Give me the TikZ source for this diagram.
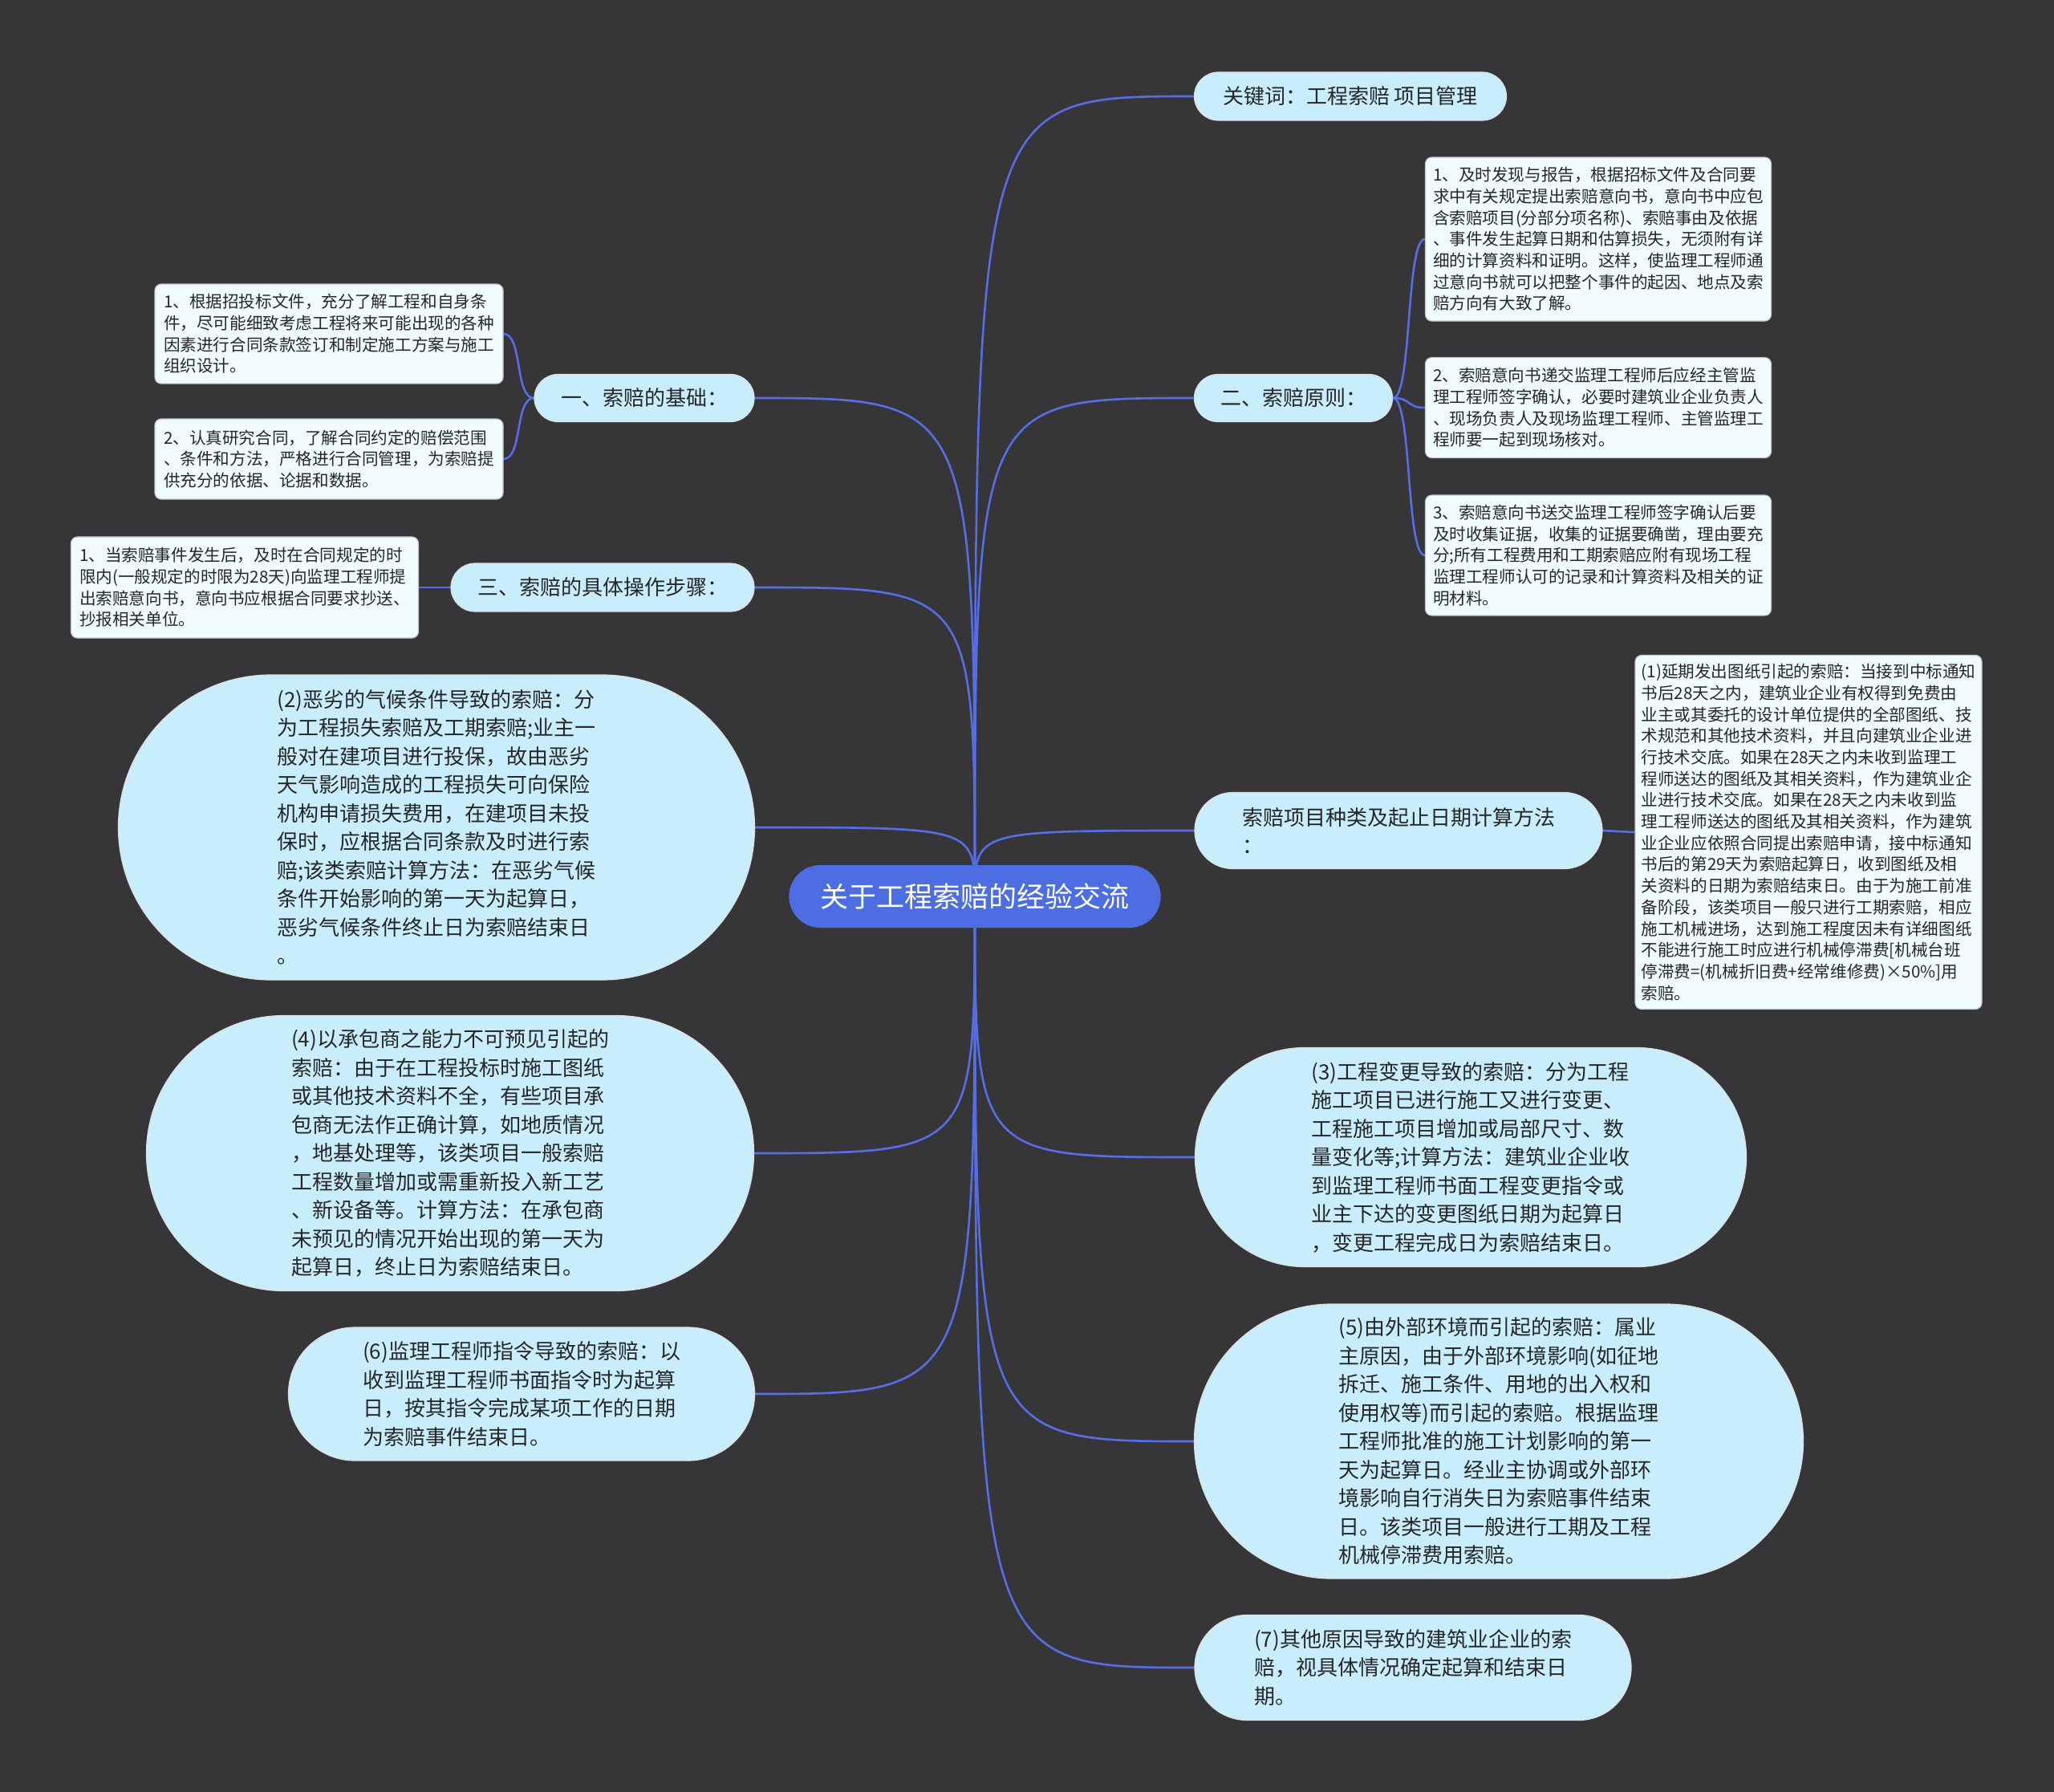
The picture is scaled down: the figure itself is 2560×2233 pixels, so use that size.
\documentclass[tikz,border=0pt]{standalone}
\usepackage{fontspec}
\setmainfont{Noto Sans CJK SC}
\usepackage{tikz}
\usetikzlibrary{shapes.misc, backgrounds}
\definecolor{bgdark}{RGB}{54,54,56}
\definecolor{linkblue}{RGB}{86,110,228}
\definecolor{rootblue}{RGB}{76,110,226}
\definecolor{branchfill}{RGB}{200,237,253}
\definecolor{leaffill}{RGB}{240,251,254}
\definecolor{textdark}{RGB}{38,38,38}
\tikzset{
    root/.style={rounded rectangle, fill=rootblue, text=white, font=\fontsize{35}{42}\selectfont}, % 中心主题
    branch/.style={rounded rectangle, fill=branchfill, draw=white!75!gray, line width=1.2, text=textdark, align=left, inner sep=0pt, font=\fontsize{26}{35.5}\selectfont}, % 分支主题
    leaf/.style={rectangle, rounded corners=8, fill=leaffill, draw=gray!45, line width=1.2, text=textdark, align=left, inner sep=0pt, font=\fontsize{20.6}{26.7}\selectfont}, % 子主题
    link/.style={draw=linkblue, line width=2.6} % 连线
}
\begin{document}
\begin{tikzpicture}[x=1pt, y=-1pt]
    \node[root, minimum width=470, minimum height=78] (root) at (1215,1117) {关于工程索赔的经验交流};

    % 右侧分支
    \node[branch, minimum width=389, minimum height=60] (kw) at (1683,120) {关键词：工程索赔 项目管理};
    \node[branch, minimum width=247, minimum height=59] (yuanze) at (1612,496) {二、索赔原则：};
    \node[branch, minimum width=508, minimum height=95] (xiangmu) at (1743,1035) {索赔项目种类及起止日期计算方法\\：};
    \node[branch, minimum width=687, minimum height=273] (c3) at (1833,1442) {(3)工程变更导致的索赔：分为工程\\施工项目已进行施工又进行变更、\\工程施工项目增加或局部尺寸、数\\量变化等;计算方法：建筑业企业收\\到监理工程师书面工程变更指令或\\业主下达的变更图纸日期为起算日\\，变更工程完成日为索赔结束日。};
    \node[branch, minimum width=759, minimum height=342] (c5) at (1868,1796) {(5)由外部环境而引起的索赔：属业\\主原因，由于外部环境影响(如征地\\拆迁、施工条件、用地的出入权和\\使用权等)而引起的索赔。根据监理\\工程师批准的施工计划影响的第一\\天为起算日。经业主协调或外部环\\境影响自行消失日为索赔事件结束\\日。该类项目一般进行工期及工程\\机械停滞费用索赔。};
    \node[branch, minimum width=544, minimum height=131] (c7) at (1761,2078) {(7)其他原因导致的建筑业企业的索\\赔，视具体情况确定起算和结束日\\期。};

    % 左侧分支
    \node[branch, minimum width=274, minimum height=59] (jichu) at (803,496) {一、索赔的基础：};
    \node[branch, minimum width=378, minimum height=60] (buzhou) at (751,732) {三、索赔的具体操作步骤：};
    \node[branch, minimum width=793, minimum height=380] (c2) at (544,1031) {(2)恶劣的气候条件导致的索赔：分\\为工程损失索赔及工期索赔;业主一\\般对在建项目进行投保，故由恶劣\\天气影响造成的工程损失可向保险\\机构申请损失费用，在建项目未投\\保时，应根据合同条款及时进行索\\赔;该类索赔计算方法：在恶劣气候\\条件开始影响的第一天为起算日，\\恶劣气候条件终止日为索赔结束日\\。};
    \node[branch, minimum width=757, minimum height=343] (c4) at (561,1437) {(4)以承包商之能力不可预见引起的\\索赔：由于在工程投标时施工图纸\\或其他技术资料不全，有些项目承\\包商无法作正确计算，如地质情况\\，地基处理等，该类项目一般索赔\\工程数量增加或需重新投入新工艺\\、新设备等。计算方法：在承包商\\未预见的情况开始出现的第一天为\\起算日，终止日为索赔结束日。};
    \node[branch, minimum width=581, minimum height=166] (c6) at (650,1737) {(6)监理工程师指令导致的索赔：以\\收到监理工程师书面指令时为起算\\日，按其指令完成某项工作的日期\\为索赔事件结束日。};

    % 子主题
    \node[leaf, minimum width=431, minimum height=204] (yz1) at (1992,298) {1、及时发现与报告，根据招标文件及合同要\\求中有关规定提出索赔意向书，意向书中应包\\含索赔项目(分部分项名称)、索赔事由及依据\\、事件发生起算日期和估算损失，无须附有详\\细的计算资料和证明。这样，使监理工程师通\\过意向书就可以把整个事件的起因、地点及索\\赔方向有大致了解。};
    \node[leaf, minimum width=431, minimum height=125] (yz2) at (1992,508) {2、索赔意向书递交监理工程师后应经主管监\\理工程师签字确认，必要时建筑业企业负责人\\、现场负责人及现场监理工程师、主管监理工\\程师要一起到现场核对。};
    \node[leaf, minimum width=431, minimum height=150] (yz3) at (1992,692) {3、索赔意向书送交监理工程师签字确认后要\\及时收集证据，收集的证据要确凿，理由要充\\分;所有工程费用和工期索赔应附有现场工程\\监理工程师认可的记录和计算资料及相关的证\\明材料。};
    \node[leaf, minimum width=432, minimum height=441] (x1) at (2254,1037) {(1)延期发出图纸引起的索赔：当接到中标通知\\书后28天之内，建筑业企业有权得到免费由\\业主或其委托的设计单位提供的全部图纸、技\\术规范和其他技术资料，并且向建筑业企业进\\行技术交底。如果在28天之内未收到监理工\\程师送达的图纸及其相关资料，作为建筑业企\\业进行技术交底。如果在28天之内未收到监\\理工程师送达的图纸及其相关资料，作为建筑\\业企业应依照合同提出索赔申请，接中标通知\\书后的第29天为索赔起算日，收到图纸及相\\关资料的日期为索赔结束日。由于为施工前准\\备阶段，该类项目一般只进行工期索赔，相应\\施工机械进场，达到施工程度因未有详细图纸\\不能进行施工时应进行机械停滞费[机械台班\\停滞费=(机械折旧费+经常维修费)×50\%]用\\索赔。};
    \node[leaf, minimum width=434, minimum height=124] (jc1) at (410,416) {1、根据招投标文件，充分了解工程和自身条\\件，尽可能细致考虑工程将来可能出现的各种\\因素进行合同条款签订和制定施工方案与施工\\组织设计。};
    \node[leaf, minimum width=434, minimum height=100] (jc2) at (410,572) {2、认真研究合同，了解合同约定的赔偿范围\\、条件和方法，严格进行合同管理，为索赔提\\供充分的依据、论据和数据。};
    \node[leaf, minimum width=433, minimum height=126] (bz1) at (305,732) {1、当索赔事件发生后，及时在合同规定的时\\限内(一般规定的时限为28天)向监理工程师提\\出索赔意向书，意向书应根据合同要求抄送、\\抄报相关单位。};

    \begin{scope}[on background layer]
        \fill[bgdark] (0,0) rectangle (2560,2233);
        % 中心到分支
        \foreach \n in {kw, yuanze, xiangmu, c3, c5, c7} {
            \draw[link] (root.center) .. controls (root.center |- \n.west) .. (\n.west);
        }
        \foreach \n in {jichu, buzhou, c2, c4, c6} {
            \draw[link] (root.center) .. controls (root.center |- \n.east) .. (\n.east);
        }
        % 分支到子主题
        \foreach \n in {yz1, yz2, yz3} {
            \draw[link] (yuanze.east) .. controls +(24,0) and +(-24,0) .. (\n.west);
        }
        \foreach \n in {jc1, jc2} {
            \draw[link] (jichu.west) .. controls +(-24,0) and +(24,0) .. (\n.east);
        }
        \draw[link] (xiangmu.east) -- (x1.west);
        \draw[link] (buzhou.west) -- (bz1.east);
    \end{scope}
\end{tikzpicture}
\end{document}
